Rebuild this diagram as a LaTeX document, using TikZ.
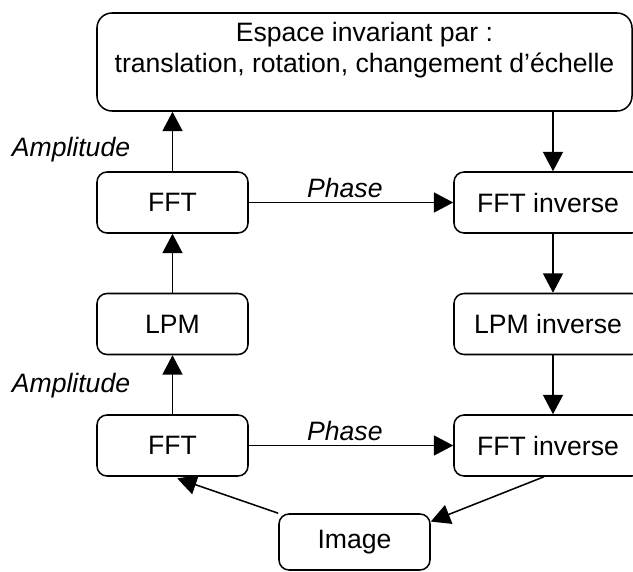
\documentclass[tikz,border=0pt]{standalone}
\usepackage{fontspec}
\setmainfont{Liberation Sans}
\usetikzlibrary{arrows.meta}

\begin{document}
\begin{tikzpicture}[
        x=0.03cm, y=-0.03cm,
        every node/.style={font=\fontsize{22.7}{26.5}\selectfont},
        box/.style={rectangle, draw, rounded corners=0.3cm, line width=1.3pt, minimum width=4.53cm, minimum height=1.83cm, align=center, inner sep=0pt},
        wide/.style={box, minimum width=5.64cm},
        arrow/.style={line width=1.3pt, -{Triangle[length=0.58cm, width=0.6cm]}},
        lbl/.style={font=\fontsize{22.7}{26.5}\selectfont\itshape}
    ]
        \useasboundingbox (0,0) rectangle (633,572);

        % Top
        \node[box, rounded corners=0.45cm, minimum width=16.05cm, minimum height=2.94cm, text depth=0.9cm] (espace) at (364.5,62)
            {Espace invariant par :\\ translation, rotation, changement d'échelle};

        % Left column
        \node[box] (fft1) at (172.5,202.5) {FFT};
        \node[box] (lpm) at (172.5,324) {LPM};
        \node[box] (fft2) at (172.5,445.5) {FFT};

        % Right column
        \node[wide] (ifft1) at (548,202.5) {FFT inverse};
        \node[wide] (ilpm) at (548,324) {LPM inverse};
        \node[wide] (ifft2) at (548,445.5) {FFT inverse};

        % Bottom
        \node[box, minimum height=1.68cm] (image) at (354.5,542) {Image};

        % Labels
        \node[lbl] (amp1) at (71,150) {Amplitude};
        \node[lbl] (amp2) at (71,386) {Amplitude};

        % Arrows
        \draw[arrow] (fft1) -- (espace.south -| fft1);
        \draw[arrow] ([xshift=0.15cm]espace.south -| ifft1) -- ([xshift=0.15cm]ifft1.north);
        \draw[arrow] (fft1) -- node[lbl, above, pos=0.47] (ph1) {Phase} (ifft1);
        \draw[arrow] ([xshift=0.15cm]ifft1.south) -- ([xshift=0.15cm]ilpm.north);
        \draw[arrow] ([xshift=0.15cm]ilpm.south) -- ([xshift=0.15cm]ifft2.north);
        \draw[arrow] (lpm) -- (fft1);
        \draw[arrow] (fft2) -- (lpm);
        \draw[arrow] (fft2) -- node[lbl, above, pos=0.47] (ph2) {Phase} (ifft2);
        \draw[arrow] ([xshift=-0.12cm]ifft2.south) -- (image.15);
        \draw[arrow, shorten >=0.15cm] (image.north west) -- (fft2.south);
    \end{tikzpicture}
\end{document}
